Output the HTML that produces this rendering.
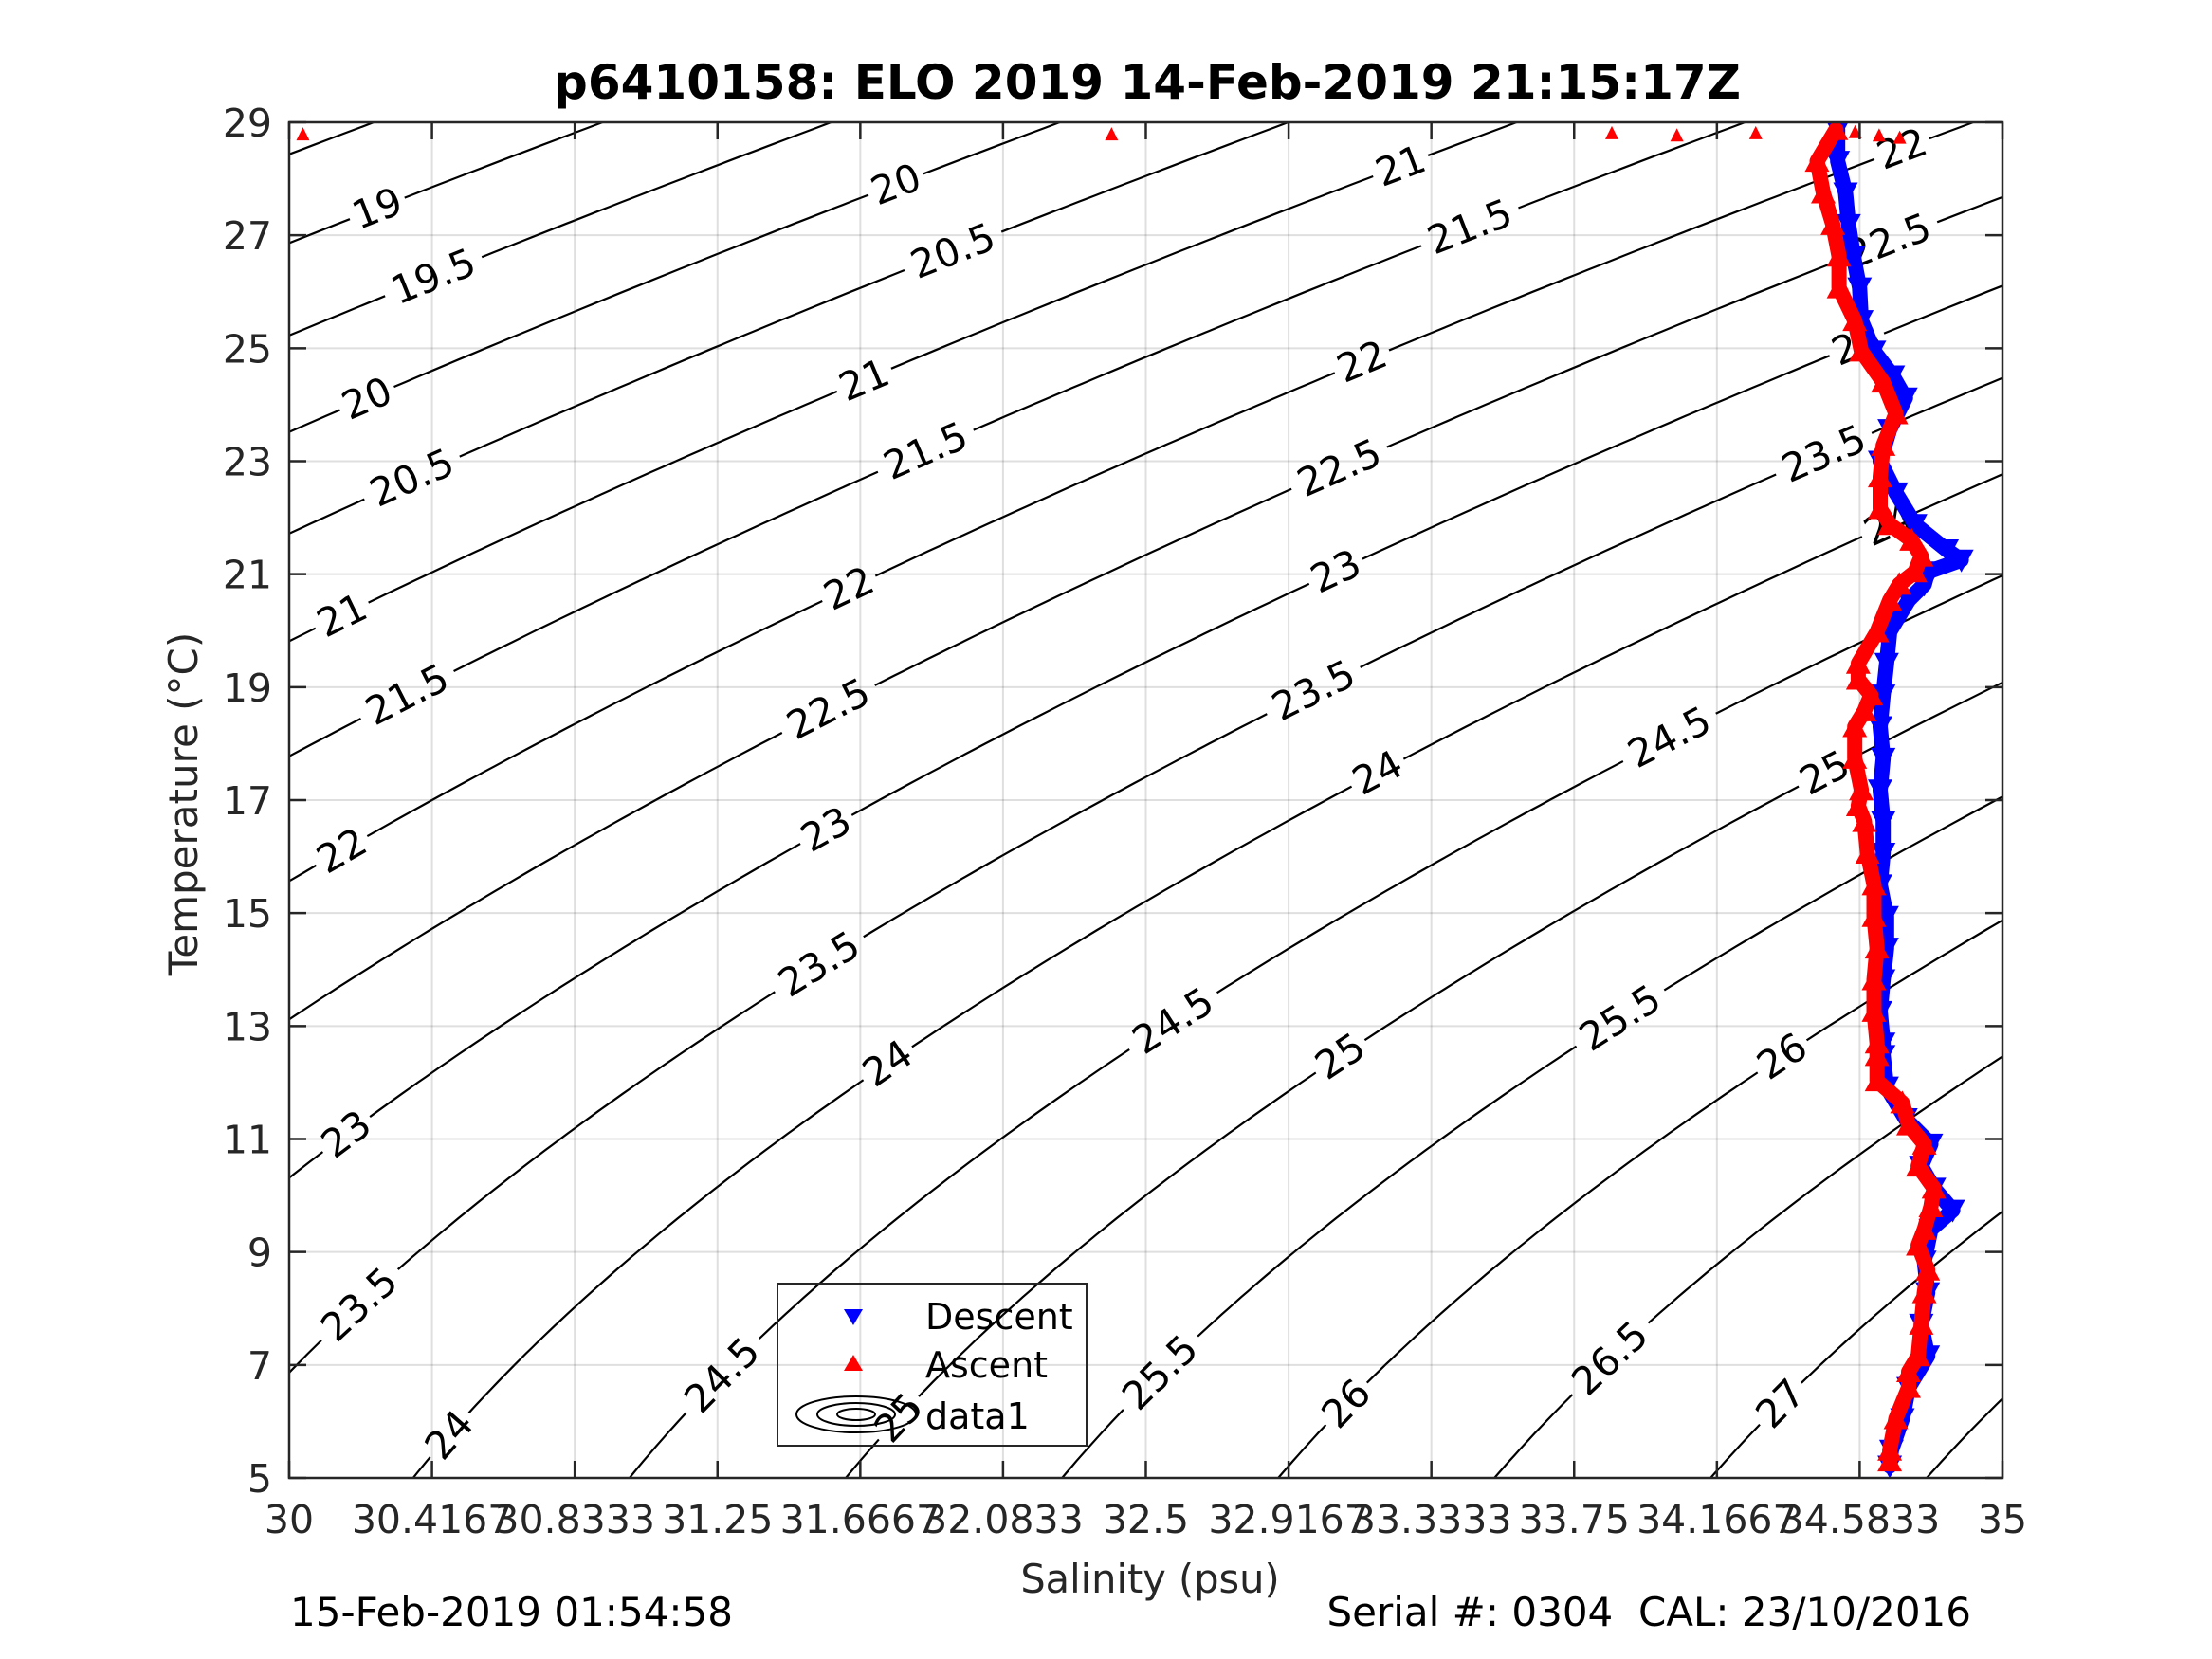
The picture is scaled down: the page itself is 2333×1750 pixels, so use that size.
<!DOCTYPE html>
<html><head><meta charset="utf-8"><style>
html,body{margin:0;padding:0;background:#fff;}
svg{display:block;font-family:"DejaVu Sans","Liberation Sans",sans-serif;}
</style></head><body>
<svg id="chart" width="2333" height="1750" viewBox="0 0 2333 1750" xmlns="http://www.w3.org/2000/svg">
<defs><clipPath id="clip"><rect x="305" y="129" width="1807" height="1430"/></clipPath></defs>
<rect x="0" y="0" width="2333" height="1750" fill="#fff"/>
<g id="contours" clip-path="url(#clip)"></g>
<g id="labelbg" clip-path="url(#clip)"></g>
<g id="grid"></g>
<g id="labels"></g>
<g id="series" clip-path="url(#clip)"></g>
<g id="axes"></g>
<text x="1210" y="104" font-size="50" font-weight="bold" text-anchor="middle" fill="#000">p6410158: ELO 2019 14-Feb-2019 21:15:17Z</text>
<text x="1213" y="1680" font-size="41.5" text-anchor="middle" fill="#262626">Salinity (psu)</text>
<text transform="translate(208,848) rotate(-90)" font-size="42" text-anchor="middle" fill="#262626">Temperature (°C)</text>
<text x="306" y="1715" font-size="42" fill="#000">15-Feb-2019 01:54:58</text>
<text x="2079" y="1715" font-size="42" text-anchor="end" fill="#000" xml:space="preserve" style="white-space:pre">Serial #: 0304  CAL: 23/10/2016</text>
<g id="legend">
<rect x="820" y="1354" width="326" height="171" fill="none" stroke="#262626" stroke-width="2"/>
<polygon points="890,1381 910,1381 900,1398" fill="#0000ff"/>
<text x="976" y="1402" font-size="38" fill="#000">Descent</text>
<polygon points="890,1446 910,1446 900,1429" fill="#ff0000"/>
<text x="976" y="1453" font-size="38" fill="#000">Ascent</text>
<g fill="none" stroke="#000" stroke-width="2">
<ellipse cx="903" cy="1492" rx="63" ry="19"/><ellipse cx="903" cy="1492" rx="41" ry="12"/><ellipse cx="903" cy="1492" rx="20" ry="6"/>
</g>
<text x="976" y="1507" font-size="38" fill="#000">data1</text>
</g>
</svg>
<script>
// ---- data ----
const descentT = [28.87,28.31,27.75,27.19,26.63,26.07,25.49,24.95,24.51,24.12,23.56,23.00,22.44,21.88,21.43,21.25,21.04,20.82,20.54,19.98,19.42,18.86,18.30,17.74,17.18,16.62,16.06,15.50,14.94,14.38,13.82,13.26,12.70,12.48,11.92,11.36,10.91,10.52,10.13,9.74,9.40,8.84,8.28,7.72,7.16,6.60,6.05,5.49,5.21];
const descentS = [34.519,34.519,34.542,34.551,34.565,34.583,34.588,34.625,34.680,34.717,34.671,34.643,34.689,34.745,34.837,34.880,34.782,34.772,34.726,34.671,34.662,34.652,34.643,34.652,34.643,34.652,34.652,34.643,34.662,34.662,34.652,34.643,34.652,34.652,34.662,34.717,34.791,34.763,34.800,34.855,34.791,34.772,34.782,34.763,34.782,34.726,34.708,34.676,34.671];
const ascentT = [28.87,28.31,27.75,27.19,26.63,26.07,25.49,24.95,24.40,23.84,23.28,22.72,22.16,21.88,21.60,21.32,21.04,20.82,20.54,19.98,19.42,19.14,18.86,18.58,18.30,17.74,17.18,16.90,16.62,16.06,15.50,14.94,14.38,13.82,13.26,12.70,12.48,12.03,11.64,11.25,10.91,10.52,10.13,9.80,9.40,9.12,8.68,8.28,7.72,7.16,6.88,6.60,6.05,5.49,5.30];
const ascentS = [34.514,34.459,34.477,34.505,34.523,34.523,34.569,34.588,34.652,34.689,34.652,34.643,34.643,34.671,34.735,34.763,34.745,34.699,34.671,34.634,34.579,34.579,34.616,34.597,34.569,34.569,34.588,34.579,34.597,34.606,34.625,34.625,34.634,34.625,34.625,34.634,34.634,34.634,34.708,34.726,34.772,34.754,34.800,34.791,34.772,34.754,34.782,34.772,34.763,34.754,34.726,34.726,34.689,34.671,34.671];
const outlierT = [28.78,28.78,28.80,28.76,28.80,28.80,28.82,28.76,28.72];
const outlierS = [30.04,32.40,33.86,34.05,34.28,34.52,34.57,34.64,34.70];
const contourLevels = [18.5,19,19.5,20,20.5,21,21.5,22,22.5,23,23.5,24,24.5,25,25.5,26,26.5,27,27.5];
const labelLevels = [19,19.5,20,20.5,21,21.5,22,23,23.5,24, 20,20.5,21,21.5,22,22.5,23,23.5,24,24.5,25, 21,21.5,22,22.5,23,23.5,24,24.5,25,25.5,26, 22,22.5,23,23.5,24,24.5,25,25.5,26,26.5,27];
const labelY = [147,195,281,337,434,490,600,800,920,1012, 130,177,268,318,415,500,585,680,750,970,1000, 117,160,255,330,403,487,545,720,745,968,990, 105,170,243,320,370,520,545,718,745,958,990];
const xTicks = [30,30.4167,30.8333,31.25,31.6667,32.0833,32.5,32.9167,33.3333,33.75,34.1667,34.5833,35];
const xTickLabels = ["30","30.4167","30.8333","31.25","31.6667","32.0833","32.5","32.9167","33.3333","33.75","34.1667","34.5833","35"];
const yTicks = [5,7,9,11,13,15,17,19,21,23,25,27,29];

// ---- axes ----
const L=305,R=2112,TOP=129,BOT=1559;
const sx = s => L + (s-30)/5*(R-L);
const sy = t => BOT - (t-5)/24*(BOT-TOP);
const NS="http://www.w3.org/2000/svg";
function mk(tag, parent, attrs){const e=document.createElementNS(NS,tag);for(const k in attrs)e.setAttribute(k,attrs[k]);parent.appendChild(e);return e;}

function sigma(S,T){
  T=T*1.00024;
  const rw=999.842594+6.793952e-2*T-9.095290e-3*T*T+1.001685e-4*T**3-1.120083e-6*T**4+6.536332e-9*T**5;
  const A=8.24493e-1-4.0899e-3*T+7.6438e-5*T*T-8.2467e-7*T**3+5.3875e-9*T**4;
  const B=-5.72466e-3+1.0227e-4*T-1.6546e-6*T*T;
  return rw+A*S+B*Math.pow(S,1.5)+4.8314e-4*S*S-1000;
}
function solveS(level,T){let a=15,b=50;for(let i=0;i<50;i++){const m=(a+b)/2;if(sigma(m,T)<level)a=m;else b=m;}return (a+b)/2;}

const gC=document.getElementById('contours');
contourLevels.forEach(lv=>{
  let d='';
  for(let t=4.5;t<=29.5001;t+=0.1){const s=solveS(lv,t);d+=(d?'L':'M')+sx(s).toFixed(1)+','+sy(t).toFixed(1);}
  const p=mk('path',gC,{d:d,fill:'none',stroke:'#000','stroke-width':2.2});
  
  
});

const gB=document.getElementById('labelbg'), gL=document.getElementById('labels');
labelLevels.forEach((lv,i)=>{
  const t=29-(labelY[i]*1.4955-129)/59.58;
  const s=solveS(lv,t);
  const x=sx(s),y=sy(t);
  const x1=sx(solveS(lv,t-0.3)),y1=sy(t-0.3),x2=sx(solveS(lv,t+0.3)),y2=sy(t+0.3);
  const ang=Math.atan2(y2-y1,x2-x1)*180/Math.PI;
  const txt=String(lv);
  const w=txt.length*24+14;
  const r=mk('rect',gB,{x:-w/2,y:-20,width:w,height:40,fill:'#fff',transform:`translate(${x},${y}) rotate(${ang})`});
  
  
  const tx=mk('text',gL,{x:0,y:14,'font-size':41,'text-anchor':'middle',fill:'#000',transform:`translate(${x},${y}) rotate(${ang})`});
  tx.textContent=txt;
  
  
});

// grid
const gG=document.getElementById('grid');
xTicks.forEach(v=>{const l=mk('line',gG,{x1:sx(v),x2:sx(v),y1:TOP,y2:BOT,stroke:'#262626','stroke-opacity':0.15,'stroke-width':2});
  });
yTicks.forEach(v=>{const l=mk('line',gG,{x1:L,x2:R,y1:sy(v),y2:sy(v),stroke:'#262626','stroke-opacity':0.15,'stroke-width':2});
  });

// series
const gS=document.getElementById('series');
function drawSeries(Ts,Ss,color,down,name){
  const g=mk('g',gS,{});
  
  
  let d='';Ts.forEach((t,i)=>{d+=(i?'L':'M')+sx(Ss[i]).toFixed(1)+','+sy(t).toFixed(1);});
  const pl=mk('path',g,{d:d,fill:'none',stroke:color,'stroke-width':16,'stroke-linejoin':'round','stroke-linecap':'round'});
  
  
  Ts.forEach((t,i)=>{
    const x=sx(Ss[i]),y=sy(t);
    const pts=down?`${x-13},${y-11} ${x+13},${y-11} ${x},${y+13}`:`${x-13},${y+11} ${x+13},${y+11} ${x},${y-13}`;
    const m=mk('polygon',g,{points:pts,fill:color});
    
    
  });
}
drawSeries(descentT,descentS,'#0000ff',true,'descent-series');
drawSeries(ascentT,ascentS,'#ff0000',false,'ascent-series');
outlierT.forEach((t,i)=>{
  const x=sx(outlierS[i]),y=sy(t);
  const m=mk('polygon',gS,{points:`${x-7},${y+6} ${x+7},${y+6} ${x},${y-8}`,fill:'#ff0000'});
  
  
});

// axes box & ticks
const gA=document.getElementById('axes');
const box=mk('rect',gA,{x:L,y:TOP,width:R-L,height:BOT-TOP,fill:'none',stroke:'#262626','stroke-width':2.5});

xTicks.forEach((v,i)=>{
  const x=sx(v);
  mk('line',gA,{x1:x,x2:x,y1:BOT,y2:BOT-18,stroke:'#262626','stroke-width':2.5});
  mk('line',gA,{x1:x,x2:x,y1:TOP,y2:TOP+18,stroke:'#262626','stroke-width':2.5});
  const t=mk('text',gA,{x:x,y:1617,'font-size':41,'text-anchor':'middle',fill:'#262626'});
  t.textContent=xTickLabels[i];
  
  
});
yTicks.forEach(v=>{
  const y=sy(v);
  mk('line',gA,{x1:L,x2:L+18,y1:y,y2:y,stroke:'#262626','stroke-width':2.5});
  mk('line',gA,{x1:R,x2:R-18,y1:y,y2:y,stroke:'#262626','stroke-width':2.5});
  const t=mk('text',gA,{x:287,y:y+15,'font-size':41,'text-anchor':'end',fill:'#262626'});
  t.textContent=String(v);
  
  
});
</script>
</body></html>
